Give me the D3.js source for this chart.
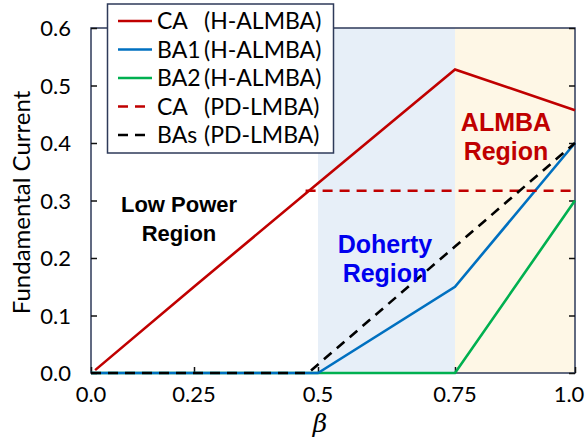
<!DOCTYPE html>
<html>
<head>
<meta charset="utf-8">
<script src="https://cdn.jsdelivr.net/npm/d3@7"></script>
<style>
  html, body { margin: 0; padding: 0; background: #fff; }
  svg { display: block; }
</style>
</head>
<body>
<svg id="chart" width="587" height="443"></svg>
<script>
// Tick positions along β and fundamental-current ticks
const betaTicks = [0, 0.25, 0.5, 0.75, 1.0];
const betaTickLabels = ["0.0", "0.25", "0.5", "0.75", "1.0"];
const currentTicks = [0, 0.1, 0.2, 0.3, 0.4, 0.5, 0.6];
const currentTickLabels = ["0.0", "0.1", "0.2", "0.3", "0.4", "0.5", "0.6"];

// Operating regions
const regionNames = ["Doherty", "ALMBA"];
const regionStart = [0.5, 0.75];
const regionEnd = [0.75, 1.0];

// Series: [β, current]
const caH = [[0.01, 0.005], [0.25, 0.15], [0.5, 0.33], [0.75, 0.528], [1.0, 0.457]];
const ba1H = [[0, 0], [0.5, 0], [0.75, 0.15], [1.0, 0.40]];
const ba2H = [[0, 0], [0.75, 0], [1.0, 0.30]];
const caPD = [[0.475, 0.317], [1.0, 0.317]];
const basPD = [[0, 0], [0.48, 0], [0.75, 0.22], [1.0, 0.40]];

const legendNames = ["CA", "BA1", "BA2", "CA", "BAs"];
const legendTags = ["(H-ALMBA)", "(H-ALMBA)", "(H-ALMBA)", "(PD-LMBA)", "(PD-LMBA)"];

const svg = d3.select("#chart");
const plotL = 91, plotR = 575, plotT = 28, plotB = 373;
const axisColor = "#2E3A59";
const font = "Lato, 'Open Sans', sans-serif";

// β axis is laid out piecewise between its labelled ticks
const x = d3.scaleLinear().domain(betaTicks).range([91, 194, 318, 455, 575]);
const y = d3.scaleLinear().domain([0, 0.6]).range([plotB, plotT]);

// Region shading
const regionFill = ["#E7EFF8", "#FEF7E6"];
svg.selectAll("rect.region").data(regionNames).enter().append("rect")
  .attr("class", "region")
  .attr("x", (d, i) => x(regionStart[i]))
  .attr("y", plotT)
  .attr("width", (d, i) => x(regionEnd[i]) - x(regionStart[i]))
  .attr("height", plotB - plotT)
  .attr("fill", (d, i) => regionFill[i]);

// Frame
svg.append("rect")
  .attr("x", plotL).attr("y", plotT)
  .attr("width", plotR - plotL).attr("height", plotB - plotT)
  .attr("fill", "none").attr("stroke", axisColor).attr("stroke-width", 1.5);

// Inward tick marks
const tickLen = 6;
const yAxisL = d3.axisRight(y).tickValues(currentTicks).tickSize(tickLen).tickFormat("");
const yAxisR = d3.axisLeft(y).tickValues(currentTicks).tickSize(tickLen).tickFormat("");
const xAxisB = d3.axisTop(x).tickValues(betaTicks).tickSize(tickLen).tickFormat("");
[[yAxisL, `translate(${plotL},0)`], [yAxisR, `translate(${plotR},0)`], [xAxisB, `translate(0,${plotB})`]]
  .forEach(([ax, tr]) => {
    const g = svg.append("g").attr("transform", tr).call(ax);
    g.select(".domain").remove();
    g.selectAll("line").attr("stroke", "#111").attr("stroke-width", 1.5);
  });

// Tick labels
svg.selectAll("text.ylab").data(currentTicks).enter().append("text")
  .attr("x", 71).attr("y", d => y(d) + 8)
  .attr("text-anchor", "end")
  .attr("font-family", font).attr("font-size", 22).attr("fill", "#000")
  .text((d, i) => currentTickLabels[i]);
svg.selectAll("text.xlab").data(betaTicks).enter().append("text")
  .attr("x", d => Math.min(x(d), 569)).attr("y", 402)
  .attr("text-anchor", "middle")
  .attr("font-family", font).attr("font-size", 22).attr("fill", "#000")
  .text((d, i) => betaTickLabels[i]);

// Axis titles
svg.append("text")
  .attr("transform", `translate(30,${(plotT + plotB) / 2 + 2}) rotate(-90)`)
  .attr("text-anchor", "middle")
  .attr("font-family", font).attr("font-size", 24).attr("fill", "#000")
  .text("Fundamental Current");
svg.append("text")
  .attr("x", 320).attr("y", 432)
  .attr("text-anchor", "middle")
  .attr("font-family", "'DejaVu Serif', serif").attr("font-style", "italic")
  .attr("font-size", 25).attr("fill", "#000")
  .text("β");

// Lines
const line = d3.line().x(d => x(d[0])).y(d => y(d[1]));
const series = [
  { data: ba2H, color: "#00B050", dash: null },
  { data: ba1H, color: "#0070C0", dash: null },
  { data: caH, color: "#C00000", dash: null },
  { data: caPD, color: "#C00000", dash: "10,7" },
  { data: basPD, color: "#000000", dash: "10,7" }
];
svg.selectAll("path.series").data(series).enter().append("path")
  .attr("class", "series")
  .attr("d", d => line(d.data))
  .attr("fill", "none")
  .attr("stroke", d => d.color)
  .attr("stroke-width", 2.6)
  .attr("stroke-dasharray", d => d.dash);

// Region labels
const labels = [
  { lines: ["Low Power", "Region"], cx: 179, y0: 212, size: 22, color: "#000000" },
  { lines: ["Doherty", "Region"], cx: 385, y0: 253, size: 25, color: "#0000EE" },
  { lines: ["ALMBA", "Region"], cx: 506, y0: 131, size: 25, color: "#C00000" }
];
labels.forEach(l => {
  l.lines.forEach((t, i) => {
    svg.append("text")
      .attr("x", l.cx).attr("y", l.y0 + i * 29)
      .attr("text-anchor", "middle")
      .attr("font-family", "'Liberation Sans', Arial, sans-serif")
      .attr("font-weight", "bold").attr("font-size", l.size)
      .attr("fill", l.color)
      .text(t);
  });
});

// Legend
const legendColors = ["#C00000", "#0070C0", "#00B050", "#C00000", "#000000"];
const legendDash = [null, null, null, "10,7", "10,7"];
const lg = svg.append("g");
lg.append("rect")
  .attr("x", 107.5).attr("y", 4).attr("width", 226).attr("height", 149)
  .attr("fill", "#fff").attr("stroke", axisColor).attr("stroke-width", 1.5);
legendNames.forEach((n, i) => {
  const cy = 21 + i * 28.5;
  lg.append("line")
    .attr("x1", 118).attr("x2", 152).attr("y1", cy).attr("y2", cy)
    .attr("stroke", legendColors[i]).attr("stroke-width", 2.6)
    .attr("stroke-dasharray", legendDash[i]);
  lg.append("text")
    .attr("x", 157).attr("y", cy + 8)
    .attr("font-family", font).attr("font-size", 23).attr("fill", "#000")
    .text(n);
  lg.append("text")
    .attr("x", 204).attr("y", cy + 8)
    .attr("font-family", font).attr("font-size", 23).attr("fill", "#000")
    .text(legendTags[i]);
});
</script>
</body>
</html>
